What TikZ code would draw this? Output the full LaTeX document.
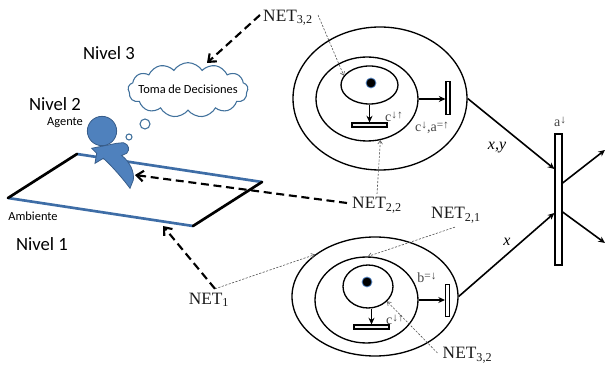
\documentclass[tikz,border=0pt]{standalone}
\usepackage{fontspec}
\setmainfont{Liberation Serif}
\newfontfamily\calibri{Carlito}
\usetikzlibrary{shapes.geometric,shapes.symbols,arrows.meta,calc}

\definecolor{agentblue}{HTML}{4F81BD}
\definecolor{agentedge}{HTML}{385D8A}
\definecolor{cloudedge}{HTML}{41719C}
\definecolor{floorblue}{HTML}{3E6DA6}
\definecolor{dotring}{HTML}{5B8BC9}
\definecolor{labelgray}{HTML}{444444}
\definecolor{netblack}{HTML}{1A1A1A}

% raised marking annotation (arrows above the variable letter)
\newcommand{\mk}[1]{\raisebox{0.55ex}{\fontsize{8.5}{9}\selectfont #1}}

\tikzset{
  place/.style={ellipse, draw, line width=1pt, inner sep=0pt},
  vbar/.style={rectangle, draw, fill=white, line width=0.8pt, inner sep=0pt,
               minimum width=3pt, minimum height=24.5pt},
  hbar/.style={rectangle, draw, fill=gray!12, line width=0.8pt, inner sep=0pt,
               minimum width=26.25pt, minimum height=3pt},
  flow/.style={-{Stealth[length=5pt,width=4.5pt]}, line width=1.2pt},
  probe/.style={-{Straight Barb[length=2.5pt,width=3.5pt]}, gray!65!black,
                line width=0.45pt, dash pattern=on 1.6pt off 1.1pt},
  link/.style={-{Straight Barb[length=5pt,width=8pt]}, line width=1.6pt,
               dash pattern=on 6pt off 3.5pt},
  netlabel/.style={font=\fontsize{13}{15}\selectfont, text=netblack, inner sep=0pt},
  tlabel/.style={font=\fontsize{10.5}{12}\selectfont, text=labelgray, inner sep=0pt},
  varlabel/.style={font=\fontsize{12}{14}\selectfont\itshape, inner sep=0pt},
  levellabel/.style={font=\calibri\fontsize{14}{16}\selectfont, inner sep=0pt},
  smalllabel/.style={font=\calibri\fontsize{9.3}{11}\selectfont, inner sep=0pt},
  floorside/.style={line width=2pt, line cap=round},
  token/.style={fill=black, draw=dotring, line width=0.6pt},
}

\begin{document}
\begin{tikzpicture}[x=0.75pt,y=-0.75pt]
\useasboundingbox (0,0) rectangle (607,370);

% ---------- environment floor ----------
\coordinate (fA) at (77,154);
\coordinate (fB) at (262,182);
\coordinate (fC) at (193,226);
\coordinate (fD) at (8,198);
\draw[floorside, floorblue] (fA) -- (fB);
\draw[floorside, floorblue] (fD) -- (fC);
\draw[floorside, black] (fD) -- (fA);
\draw[floorside, black] (fB) -- (fC);

% ---------- agent figure ----------
\filldraw[fill=agentblue, draw=agentedge, line width=0.6pt]
  (91.7,148.3) -- (116.7,143.3) -- (123.3,142.7)
  .. controls (129,144) and (130,150) .. (126.7,153.3) -- (121.7,155.5)
  .. controls (130,162) and (134.5,172) .. (133.3,180) -- (130,188.3)
  .. controls (124,180) and (112,166) .. (103.3,158.3) -- (95,163.3)
  -- (96.7,153.3) -- cycle;
\node[circle, fill=agentblue, draw=agentedge, line width=0.6pt, inner sep=0pt,
      minimum size=22pt] (head) at (102,131) {};
\coordinate (agentR) at (135,175);

% ---------- thought bubble ----------
\node[circle, draw=cloudedge, fill=white, line width=0.8pt, inner sep=0pt,
      minimum size=4.5pt] (bub1) at (129,137) {};
\node[circle, draw=cloudedge, fill=white, line width=0.8pt, inner sep=0pt,
      minimum size=7.5pt] (bub2) at (145,124) {};
\node[cloud, cloud puffs=13, cloud puff arc=115, aspect=2.3, draw=cloudedge,
      fill=white, line width=0.8pt, inner sep=0pt, minimum width=90pt,
      minimum height=41pt] (cloud) at (188,90) {};
\node[smalllabel] (decide) at (188,89) {Toma de Decisiones};
\coordinate (cloudtop) at (207,63);

% ---------- level texts ----------
\node[levellabel] (lvl3) at (109,53) {Nivel 3};
\node[levellabel] (lvl2) at (55,104) {Nivel 2};
\node[smalllabel] (agent) at (65,123) {Agente};
\node[smalllabel] (amb) at (33,216) {Ambiente};
\node[levellabel] (lvl1) at (42,244) {Nivel 1};

% ---------- upper net ----------
\node[place, minimum width=130.5pt, minimum height=107.25pt] (t-out) at (380,98.5) {};
\node[place, minimum width=76.5pt, minimum height=63pt] (t-mid) at (367,99) {};
\node[place, minimum width=42.75pt, minimum height=28.5pt] (t-in) at (369.5,85) {};
\filldraw[token] (371,83) circle (5);
\node[hbar] (t-hbar) at (369.5,125) {};
\node[vbar] (t-vbar) at (448,98) {};
\draw[flow] (t-in.south) -- (t-hbar.north);
\draw[flow] (t-mid.east) -- (t-mid.east -| t-vbar.west);
\node[tlabel] (t-hl) at (394,117) {c\mk{↓↑}};
\node[tlabel] (t-vl) at (432,128) {c\mk{↓},a\mk{=↑}};

% ---------- lower net ----------
\node[place, minimum width=124.5pt, minimum height=89.25pt] (b-out) at (375,296.5) {};
\node[place, minimum width=77.25pt, minimum height=64.5pt] (b-mid) at (366.5,300) {};
\node[place, minimum width=37.5pt, minimum height=32.25pt] (b-in) at (368,286.5) {};
\filldraw[token] (367,282) circle (5);
\node[hbar] (b-hbar) at (371.5,327) {};
\node[vbar] (b-vbar) at (447.5,300.5) {};
\draw[flow] (b-hbar.north |- b-in.south) -- (b-hbar.north);
\draw[flow] (b-mid.east) -- (b-mid.east -| b-vbar.west);
\node[tlabel] (b-hl) at (395,320) {c\mk{↓↑}};
\node[tlabel] (b-vl) at (427,278) {b\mk{=↓}};

% ---------- synchronising transition ----------
\node[rectangle, draw, fill=white, line width=0.9pt, inner sep=0pt,
      minimum width=5.25pt, minimum height=98.25pt] (T) at (558.5,199.5) {};
\node[tlabel] (T-l) at (560,122) {a\mk{↓}};
\coordinate (outA) at (605,150);
\coordinate (outB) at (605,243);
\draw[flow] (t-out.east) -- ($(T.west)+(0,-30.5)$);
\draw[flow] (b-out.east) -- ($(T.west)+(0,13.5)$);
\draw[flow] ($(T.east)+(0,-16.5)$) -- (outA);
\draw[flow] ($(T.east)+(0,12.5)$) -- (outB);
\node[varlabel] (xy) at (497,148) {x,y};
\node[varlabel] (xonly) at (507,242) {x};

% ---------- net labels ----------
\node[netlabel] (n32t) at (288,18) {NET\textsubscript{3,2}};
\node[netlabel] (n22) at (377,205) {NET\textsubscript{2,2}};
\node[netlabel] (n21) at (456,215) {NET\textsubscript{2,1}};
\node[netlabel] (n1) at (209,300) {NET\textsubscript{1}};
\node[netlabel] (n32b) at (467.5,355) {NET\textsubscript{3,2}};

% thin dotted references into the nets
\draw[probe] ($(n32t.east)+(5,-3)$) -- (t-in.160);
\draw[probe] ($(n22.north)+(0,-3)$) -- (t-mid.-72);
\draw[probe] ($(n21.south)+(-1,4)$) -- (b-mid.88);
\draw[probe] ($(n1.north)+(6,-4)$) -- (b-out.145);
\draw[probe] ($(n32b.west)+(-5,-2)$) -- (b-in.-38);

% dashed level links
\draw[link] ($(n32t.west)+(-3,-3)$) -- (cloudtop);
\draw[link] ($(n22.west)+(-5,-2)$) -- (agentR);
\draw[link] ($(n1.north)+(6,-4)$) -- (163,226);
\end{tikzpicture}
\end{document}
